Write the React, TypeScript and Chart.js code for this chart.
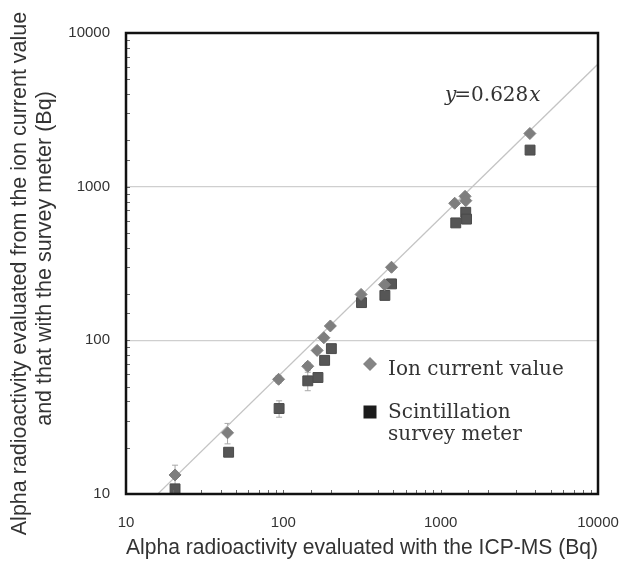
import React, { useEffect, useRef } from 'react';
import { Chart, registerables } from 'chart.js';

Chart.register(...registerables);

// ---- Data ----
const ION_X = [20.5, 44.2, 93.3, 143, 164, 181, 199, 312, 440, 487, 1228, 1429, 1445, 3690];
const ION_Y = [13.3, 25.0, 55.8, 67.8, 86, 104, 124, 199, 230, 299, 780, 865, 811, 2218];
const ION_ERR = [2.1, 3.8, 3.0, 4.0, 0, 0, 0, 0, 0, 0, 0, 0, 0, 0];

const SCI_X = [20.5, 44.9, 94, 143, 166, 183, 202, 314, 442, 487, 1247, 1443, 1460, 3700];
const SCI_Y = [10.8, 18.7, 36.0, 54.5, 57.3, 74.1, 88.3, 176, 196, 233, 581, 681, 615, 1730];
const SCI_ERR = [0, 0, 4.4, 7.5, 0, 0, 0, 0, 0, 0, 0, 0, 0, 0];

const FIT_SLOPE = 0.628;
const FIT_X = [15.92, 10000];

const AXIS_MIN = 10;
const AXIS_MAX = 10000;
const MAJOR_TICKS = [10, 100, 1000, 10000];
const GRID_VALUES = [100, 1000];

const X_TITLE = 'Alpha radioactivity evaluated with the ICP-MS (Bq)';
const Y_TITLE_LINE1 = 'Alpha radioactivity evaluated from the ion current value';
const Y_TITLE_LINE2 = 'and that with the survey meter (Bq)';
const LEGEND_ION = ['Ion current value'];
const LEGEND_SCI = ['Scintillation', 'survey meter'];
const FIT_LABEL = { pre: 'y', mid: '=0.628', post: 'x' };

const ION_COLOR = '#7e7e7e';
const SCI_COLOR = '#565656';
const SANS = '"Liberation Sans", Arial, sans-serif';
const SERIF = '"DejaVu Serif", "Liberation Serif", serif';

const isMajor = (v: number) => {
  const l = Math.log10(v);
  return Math.abs(l - Math.round(l)) < 1e-6;
};
const near = (v: number, arr: number[]) => arr.some((a) => Math.abs(v - a) / a < 1e-6);

const errorBarPlugin = {
  id: 'errorBars',
  beforeDatasetsDraw(chart: any) {
    const { ctx } = chart;
    const xs = chart.scales.x;
    const ys = chart.scales.y;
    const sets = [
      { X: ION_X, Y: ION_Y, E: ION_ERR },
      { X: SCI_X, Y: SCI_Y, E: SCI_ERR },
    ];
    ctx.save();
    ctx.strokeStyle = '#a8a8a8';
    ctx.lineWidth = 1;
    sets.forEach(({ X, Y, E }) => {
      X.forEach((xv, i) => {
        const e = E[i];
        if (!e) return;
        const px = xs.getPixelForValue(xv);
        const top = ys.getPixelForValue(Y[i] + e);
        const bot = ys.getPixelForValue(Math.max(Y[i] - e, AXIS_MIN));
        ctx.beginPath();
        ctx.moveTo(px, top);
        ctx.lineTo(px, bot);
        ctx.moveTo(px - 3, top);
        ctx.lineTo(px + 3, top);
        ctx.moveTo(px - 3, bot);
        ctx.lineTo(px + 3, bot);
        ctx.stroke();
      });
    });
    ctx.restore();
  },
};

const framePlugin = {
  id: 'frame',
  afterDraw(chart: any) {
    const { ctx, chartArea: a } = chart;
    const xs = chart.scales.x;
    const ys = chart.scales.y;
    ctx.save();
    ctx.strokeStyle = '#666';
    ctx.lineWidth = 1;
    ctx.beginPath();
    xs.ticks.forEach((t: any) => {
      const p = Math.round(xs.getPixelForValue(t.value)) + 0.5;
      ctx.moveTo(p, a.bottom);
      ctx.lineTo(p, a.bottom - 4);
    });
    ys.ticks.forEach((t: any) => {
      const p = Math.round(ys.getPixelForValue(t.value)) + 0.5;
      ctx.moveTo(a.left, p);
      ctx.lineTo(a.left + 4, p);
    });
    ctx.stroke();
    ctx.strokeStyle = '#111';
    ctx.lineWidth = 2.5;
    ctx.strokeRect(a.left, a.top, a.right - a.left, a.bottom - a.top);
    ctx.restore();
  },
};

const legendPlugin = {
  id: 'customLegend',
  afterDraw(chart: any) {
    const { ctx, chartArea: a } = chart;
    ctx.save();
    const mx = a.left + 244;
    const tx = a.left + 262;
    const y1 = a.top + 331;
    ctx.fillStyle = '#858585';
    ctx.beginPath();
    ctx.moveTo(mx - 7, y1);
    ctx.lineTo(mx, y1 - 7);
    ctx.lineTo(mx + 7, y1);
    ctx.lineTo(mx, y1 + 7);
    ctx.closePath();
    ctx.fill();
    const y2 = a.top + 379;
    ctx.fillStyle = '#1c1c1c';
    ctx.fillRect(mx - 6.5, y2 - 6.5, 13, 13);

    ctx.fillStyle = '#333';
    ctx.font = '20px ' + SERIF;
    ctx.textBaseline = 'alphabetic';
    ctx.textAlign = 'left';
    LEGEND_ION.forEach((s, i) => ctx.fillText(s, tx, a.top + 342 + i * 22));
    LEGEND_SCI.forEach((s, i) => ctx.fillText(s, tx, a.top + 385 + i * 22));

    let x = a.left + 319;
    const by = a.top + 68;
    ctx.font = 'italic 20px ' + SERIF;
    ctx.fillText(FIT_LABEL.pre, x, by);
    x += ctx.measureText(FIT_LABEL.pre).width - 2;
    ctx.font = '20px ' + SERIF;
    ctx.fillText(FIT_LABEL.mid, x, by);
    x += ctx.measureText(FIT_LABEL.mid).width + 1;
    ctx.font = 'italic 20px ' + SERIF;
    ctx.fillText(FIT_LABEL.post, x, by);
    ctx.restore();
  },
};

// y-axis title drawn in two lines, each centred on its own position along the axis
const yTitlePlugin = {
  id: 'yTitle',
  afterDraw(chart: any) {
    const { ctx, chartArea: a } = chart;
    const mid = (a.top + a.bottom) / 2;
    ctx.save();
    ctx.fillStyle = '#333';
    ctx.font = '21.5px ' + SANS;
    ctx.textAlign = 'center';
    ctx.textBaseline = 'middle';
    const lines = [
      { text: Y_TITLE_LINE1, x: 20, dy: 10 },
      { text: Y_TITLE_LINE2, x: 45, dy: -5 },
    ];
    lines.forEach((l) => {
      ctx.save();
      ctx.translate(l.x, mid + l.dy);
      ctx.rotate(-Math.PI / 2);
      ctx.fillText(l.text, 0, 0);
      ctx.restore();
    });
    ctx.restore();
  },
};

export default function App() {
  const ref = useRef<HTMLCanvasElement | null>(null);

  useEffect(() => {
    if (!ref.current) return;
    const chart = new Chart(ref.current, {
      type: 'scatter',
      data: {
        datasets: [
          {
            type: 'line',
            label: 'fit',
            data: FIT_X.map((x) => ({ x, y: FIT_SLOPE * x })),
            borderColor: '#c4c4c4',
            borderWidth: 1.2,
            pointRadius: 0,
            fill: false,
            order: 3,
          } as any,
          {
            label: 'Scintillation survey meter',
            data: SCI_X.map((x, i) => ({ x, y: SCI_Y[i] })),
            pointStyle: 'rect',
            pointRadius: 7,
            backgroundColor: SCI_COLOR,
            borderColor: '#4a4a4a',
            borderWidth: 1,
            order: 2,
          },
          {
            label: 'Ion current value',
            data: ION_X.map((x, i) => ({ x, y: ION_Y[i] })),
            pointStyle: 'rectRot',
            pointRadius: 6,
            backgroundColor: ION_COLOR,
            borderColor: ION_COLOR,
            borderWidth: 1,
            order: 1,
          },
        ],
      },
      options: {
        animation: false,
        responsive: true,
        maintainAspectRatio: false,
        layout: { padding: { top: 33, right: 25, left: 0, bottom: 0 } },
        plugins: {
          legend: { display: false },
          tooltip: { enabled: false },
        },
        scales: {
          x: {
            type: 'logarithmic',
            min: AXIS_MIN,
            max: AXIS_MAX,
            afterFit: (s: any) => {
              s.height = 67;
              s.paddingLeft = 0;
              s.paddingRight = 0;
            },
            border: { display: false },
            grid: { display: false, drawTicks: false },
            ticks: {
              autoSkip: false,
              maxRotation: 0,
              padding: 20,
              color: '#333',
              font: { family: SANS, size: 15 },
              callback: (v: any) => (isMajor(Number(v)) && near(Number(v), MAJOR_TICKS) ? String(Math.round(Number(v))) : ''),
            },
            title: {
              display: true,
              text: X_TITLE,
              color: '#333',
              font: { family: SANS, size: 22.5 },
              padding: { top: 0, bottom: 0 },
            },
          },
          y: {
            type: 'logarithmic',
            min: AXIS_MIN,
            max: AXIS_MAX,
            afterFit: (s: any) => {
              s.width = 126;
              s.paddingTop = 0;
              s.paddingBottom = 0;
            },
            border: { display: false },
            grid: {
              drawTicks: false,
              lineWidth: 1.2,
              color: (c: any) => (c.tick && near(c.tick.value, GRID_VALUES) ? '#cfcfcf' : 'rgba(0,0,0,0)'),
            },
            ticks: {
              autoSkip: false,
              padding: 16,
              color: '#333',
              font: { family: SANS, size: 15 },
              callback: (v: any) => (isMajor(Number(v)) && near(Number(v), MAJOR_TICKS) ? String(Math.round(Number(v))) : ''),
            },
            title: { display: false },
          },
        },
      },
      plugins: [errorBarPlugin, framePlugin, legendPlugin, yTitlePlugin],
    });
    return () => chart.destroy();
  }, []);

  return (
    <div style={{ position: 'absolute', left: 0, top: 0, width: 623, height: 561, background: '#fff' }}>
      <canvas ref={ref} />
    </div>
  );
}
